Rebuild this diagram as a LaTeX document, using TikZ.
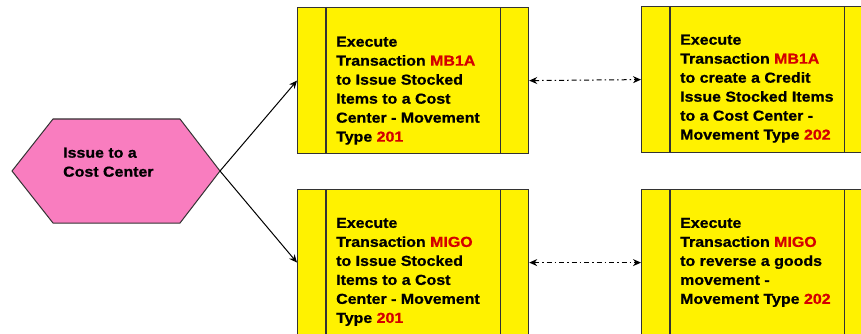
\documentclass[tikz,border=0pt]{standalone}
\usepackage{fontspec}
\newfontfamily\lblfont{Liberation Sans Bold}[FakeStretch=1.1,FakeBold=0.8]
\usetikzlibrary{arrows.meta,calc}

\definecolor{procyellow}{HTML}{FFF200}
\definecolor{eventpink}{HTML}{F97DBF}
\definecolor{edgegrey}{HTML}{333333}
\definecolor{sapred}{HTML}{D40000}

\tikzset{
  procbox/.style={draw=edgegrey, line width=1.2pt, fill=procyellow,
    minimum width=231pt, minimum height=146pt, inner sep=0pt,
    anchor=north west},
  proctext/.style={anchor=north west, inner sep=0pt, align=left,
    font=\lblfont\fontsize{14.5}{19}\selectfont},
  flow/.style={line width=1pt, -{Stealth[length=8pt,width=7pt]}},
  undo/.style={line width=1pt,
    {Stealth[length=8pt,width=7pt]}-{Stealth[length=8pt,width=7pt]},
    dash pattern=on 5pt off 3pt on 1.5pt off 3pt},
}

\newcommand{\code}[1]{\textcolor{sapred}{#1}}

\begin{document}
\begin{tikzpicture}[x=1pt,y=-1pt]
  \useasboundingbox (0,0) rectangle (861,334);
  \clip (0,0) rectangle (861,334);

  % event hexagon
  \draw[edgegrey, line width=1pt, fill=eventpink]
    (12,171) -- (53,119) -- (180,119) -- (220,171) -- (180,223) -- (53,223) -- cycle;
  \coordinate (hexE) at (220,171);
  \node[proctext] (hextxt) at (63,147.5) {Issue to a\\Cost Center};

  % function boxes
  \node[procbox] (b1) at (297,7) {};
  \node[procbox] (b2) at (641,6) {};
  \node[procbox] (b3) at (297,189) {};
  \node[procbox] (b4) at (641,189) {};

  \foreach \b in {b1,b2,b3,b4}{
    \draw[edgegrey, line width=1.2pt]
      ($(\b.north west)+(29,0)$) -- ($(\b.south west)+(29,0)$);
    \draw[edgegrey, line width=1.2pt]
      ($(\b.north east)+(-29,0)$) -- ($(\b.south east)+(-29,0)$);
  }

  \node[proctext] (t1) at ($(b1.north west)+(39,29.5)$)
    {Execute\\Transaction \code{MB1A}\\to Issue Stocked\\Items to a Cost\\Center - Movement\\Type \code{201}};
  \node[proctext] (t2) at ($(b2.north west)+(39,28.5)$)
    {Execute\\Transaction \code{MB1A}\\to create a Credit\\Issue Stocked Items\\to a Cost Center -\\Movement Type \code{202}};
  \node[proctext] (t3) at ($(b3.north west)+(39,28.7)$)
    {Execute\\Transaction \code{MIGO}\\to Issue Stocked\\Items to a Cost\\Center - Movement\\Type \code{201}};
  \node[proctext] (t4) at ($(b4.north west)+(39,28.7)$)
    {Execute\\Transaction \code{MIGO}\\to reverse a goods\\movement -\\Movement Type \code{202}};

  % connectors
  \draw[flow] (hexE) -- (b1.west);
  \draw[flow] (hexE) -- (b3.west);
  \draw[undo] (b1.east) -- (b2.west);
  \draw[undo] (b3.east) -- (b4.west);
\end{tikzpicture}
\end{document}
